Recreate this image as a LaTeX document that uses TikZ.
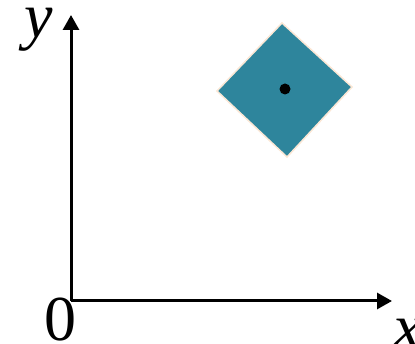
\documentclass[tikz,border=0pt]{standalone}
\usepackage{fontspec}
\setmainfont{Liberation Serif}
\usetikzlibrary{arrows.meta}
\definecolor{teal1}{HTML}{2E859C}
\definecolor{peach}{HTML}{FBE7D5}
\begin{document}
\begin{tikzpicture}[x=1pt,y=-1pt,
  axis/.style={line width=3pt,-{Triangle[length=15pt,width=16pt]}},
  lbl/.style={inner sep=0pt,font=\fontsize{64}{64}\selectfont}]
\useasboundingbox (0,0) rectangle (415,344);
\coordinate (O) at (71,301);
\coordinate (Ytip) at (71,15);
\coordinate (Xtip) at (392,301);
\draw[axis] (O) -- (Ytip);
\draw[axis] (O) -- (Xtip);
\coordinate (A) at (282,23);
\coordinate (B) at (352,87);
\coordinate (C) at (287,157);
\coordinate (D) at (217,91);
\filldraw[fill=teal1,draw=peach,line width=1.5pt,line join=miter] (A) -- (B) -- (C) -- (D) -- cycle;
\fill (285,89) circle (5.5);
\node[lbl,anchor=base west] (ylab) at (24,38) {\textit{y}};
\node[lbl,anchor=base] (zero) at (60.5,341) {0};
\node[lbl,anchor=base west] (xlab) at (393,349) {\textit{x}};
\end{tikzpicture}
\end{document}
